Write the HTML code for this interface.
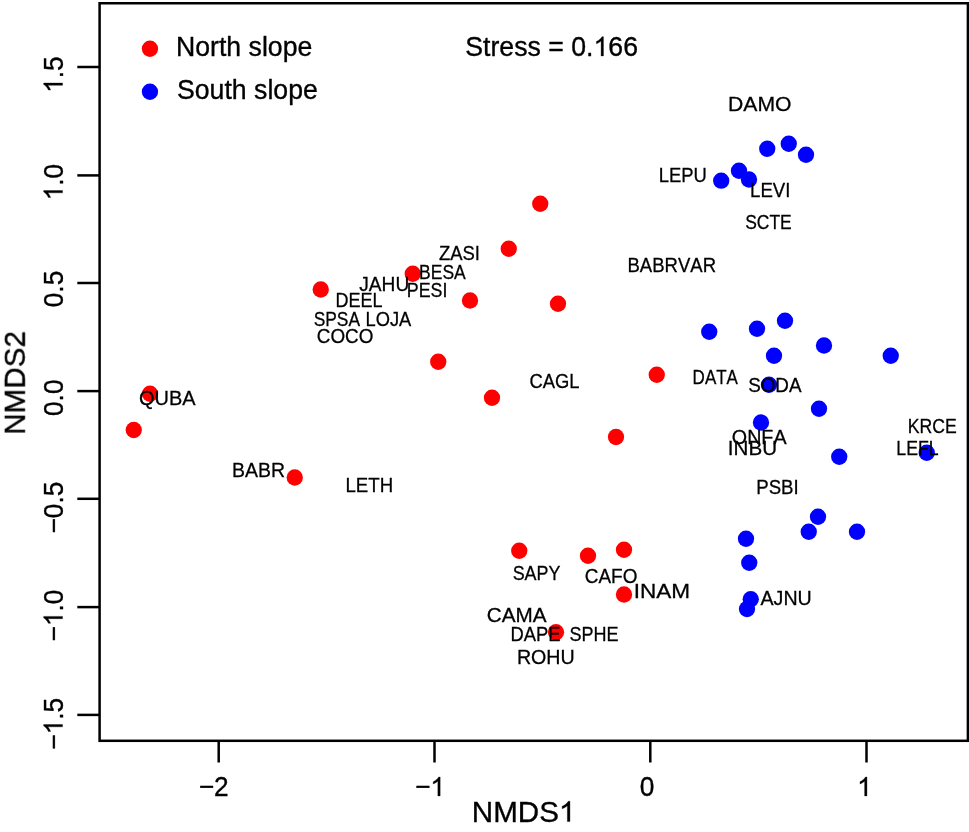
<!DOCTYPE html>
<html><head><meta charset="utf-8"><title>NMDS ordination</title>
<style>html,body{margin:0;padding:0;background:#fff;}body{width:969px;height:832px;overflow:hidden;font-family:"Liberation Sans",sans-serif;}svg{display:block;}</style>
</head><body>
<svg width="969" height="832" viewBox="0 0 969 832">
<rect x="0" y="0" width="969" height="832" fill="#fff"/>
<g fill="#ff0000">
<circle cx="150" cy="393.75" r="8.15"/>
<circle cx="133.75" cy="430" r="8.15"/>
<circle cx="320.75" cy="289.5" r="8.15"/>
<circle cx="412.75" cy="273.75" r="8.15"/>
<circle cx="470" cy="300.5" r="8.15"/>
<circle cx="438.25" cy="361.75" r="8.15"/>
<circle cx="540.25" cy="203.75" r="8.15"/>
<circle cx="508.75" cy="248.75" r="8.15"/>
<circle cx="558" cy="303.75" r="8.15"/>
<circle cx="656.75" cy="374.75" r="8.15"/>
<circle cx="492" cy="397.75" r="8.15"/>
<circle cx="294.75" cy="477.5" r="8.15"/>
<circle cx="616" cy="437" r="8.15"/>
<circle cx="519.25" cy="550.75" r="8.15"/>
<circle cx="588" cy="555.75" r="8.15"/>
<circle cx="624" cy="549.75" r="8.15"/>
<circle cx="624" cy="594.5" r="8.15"/>
<circle cx="556" cy="632.25" r="8.15"/>
</g><g fill="#0000ff">
<circle cx="721.2" cy="180.7" r="8.15"/>
<circle cx="739" cy="170.75" r="8.15"/>
<circle cx="749" cy="179.5" r="8.15"/>
<circle cx="767.25" cy="148.75" r="8.15"/>
<circle cx="788.75" cy="143.75" r="8.15"/>
<circle cx="806" cy="154.75" r="8.15"/>
<circle cx="709.25" cy="331.75" r="8.15"/>
<circle cx="757" cy="328.75" r="8.15"/>
<circle cx="785" cy="320.75" r="8.15"/>
<circle cx="824" cy="345.5" r="8.15"/>
<circle cx="774" cy="355.75" r="8.15"/>
<circle cx="890.75" cy="355.75" r="8.15"/>
<circle cx="769" cy="384.75" r="8.15"/>
<circle cx="819" cy="408.75" r="8.15"/>
<circle cx="761" cy="422.5" r="8.15"/>
<circle cx="839.25" cy="456.75" r="8.15"/>
<circle cx="926.75" cy="452.75" r="8.15"/>
<circle cx="818" cy="516.75" r="8.15"/>
<circle cx="808.75" cy="531.75" r="8.15"/>
<circle cx="857" cy="531.75" r="8.15"/>
<circle cx="746" cy="538.75" r="8.15"/>
<circle cx="749.25" cy="562.75" r="8.15"/>
<circle cx="750.75" cy="599.25" r="8.15"/>
<circle cx="747" cy="609" r="8.15"/>
</g>
<circle cx="149.95" cy="48.75" r="8.15" fill="#ff0000"/>
<circle cx="149.95" cy="91.75" r="8.15" fill="#0000ff"/>
<g stroke="#000" stroke-width="2.5" fill="none" stroke-linecap="butt">
<rect x="99.6" y="3.25" width="868.3" height="737.55"/>
<line x1="77.3" y1="67" x2="99.6" y2="67"/>
<line x1="77.3" y1="175.4" x2="99.6" y2="175.4"/>
<line x1="77.3" y1="283" x2="99.6" y2="283"/>
<line x1="77.3" y1="391.1" x2="99.6" y2="391.1"/>
<line x1="77.3" y1="498.8" x2="99.6" y2="498.8"/>
<line x1="77.3" y1="607.1" x2="99.6" y2="607.1"/>
<line x1="77.3" y1="714.9" x2="99.6" y2="714.9"/>
<line x1="218.7" y1="740.8" x2="218.7" y2="762.5"/>
<line x1="434.5" y1="740.8" x2="434.5" y2="762.5"/>
<line x1="650.3" y1="740.8" x2="650.3" y2="762.5"/>
<line x1="866.5" y1="740.8" x2="866.5" y2="762.5"/>
</g>
<g font-family="'Liberation Sans', sans-serif" fill="#000" stroke="#000" stroke-width="0.35" stroke-linejoin="round" style="font-kerning:none" opacity="0.999">
<g transform="translate(62.55,92.86) rotate(-90)"><path d="M9.80,0.00 L7.49,0.00 L7.49,-14.73 Q6.65,-13.93 5.30,-13.14 Q3.94,-12.34 2.86,-11.94 L2.86,-14.18 Q4.80,-15.09 6.25,-16.39 Q7.71,-17.68 8.31,-18.90 L9.80,-18.90 Z"/><text x="14.63" y="0" font-size="26.3" transform="scale(1,1.045)">.5</text></g>
<g transform="translate(62.55,200.36) rotate(-90)"><path d="M9.80,0.00 L7.49,0.00 L7.49,-14.73 Q6.65,-13.93 5.30,-13.14 Q3.94,-12.34 2.86,-11.94 L2.86,-14.18 Q4.80,-15.09 6.25,-16.39 Q7.71,-17.68 8.31,-18.90 L9.80,-18.90 Z"/><text x="14.63" y="0" font-size="26.3" transform="scale(1,1.045)">.0</text></g>
<g transform="translate(62.55,307.28) rotate(-90)"><text x="0.00" y="0" font-size="26.3" transform="scale(1,1.045)">0.5</text></g>
<g transform="translate(62.55,416.03) rotate(-90)"><text x="0.00" y="0" font-size="26.3" transform="scale(1,1.045)">0.0</text></g>
<g transform="translate(62.55,533.55) rotate(-90)"><text x="0.00" y="0" font-size="26.3" transform="scale(1,1.045)">−0.5</text></g>
<g transform="translate(62.55,641.55) rotate(-90)"><text x="0.00" y="0" font-size="26.3" transform="scale(1,1.045)">−</text><path d="M25.16,0.00 L22.85,0.00 L22.85,-14.73 Q22.01,-13.93 20.66,-13.14 Q19.30,-12.34 18.22,-11.94 L18.22,-14.18 Q20.16,-15.09 21.61,-16.39 Q23.06,-17.68 23.67,-18.90 L25.16,-18.90 Z"/><text x="29.99" y="0" font-size="26.3" transform="scale(1,1.045)">.0</text></g>
<g transform="translate(62.55,749.70) rotate(-90)"><text x="0.00" y="0" font-size="26.3" transform="scale(1,1.045)">−</text><path d="M25.16,0.00 L22.85,0.00 L22.85,-14.73 Q22.01,-13.93 20.66,-13.14 Q19.30,-12.34 18.22,-11.94 L18.22,-14.18 Q20.16,-15.09 21.61,-16.39 Q23.06,-17.68 23.67,-18.90 L25.16,-18.90 Z"/><text x="29.99" y="0" font-size="26.3" transform="scale(1,1.045)">.5</text></g>
<g transform="translate(198.70,795.9)"><text x="0.00" y="0" font-size="26.3" transform="scale(1,1.045)">−2</text></g>
<g transform="translate(415.00,795.9)"><text x="0.00" y="0" font-size="26.3" transform="scale(1,1.045)">−</text><path d="M25.16,0.00 L22.85,0.00 L22.85,-14.73 Q22.01,-13.93 20.66,-13.14 Q19.30,-12.34 18.22,-11.94 L18.22,-14.18 Q20.16,-15.09 21.61,-16.39 Q23.06,-17.68 23.67,-18.90 L25.16,-18.90 Z"/></g>
<g transform="translate(639.87,795.9)"><text x="0.00" y="0" font-size="26.3" transform="scale(1,1.045)">0</text></g>
<g transform="translate(857.14,795.9)"><path d="M9.80,0.00 L7.49,0.00 L7.49,-14.73 Q6.65,-13.93 5.30,-13.14 Q3.94,-12.34 2.86,-11.94 L2.86,-14.18 Q4.80,-15.09 6.25,-16.39 Q7.71,-17.68 8.31,-18.90 L9.80,-18.90 Z"/></g>
<g transform="translate(471.77,821.6)"><text x="0.00" y="0" font-size="29.6" transform="scale(1,1.0)">NMDS</text><path d="M98.18,0.00 L95.58,0.00 L95.58,-15.86 Q94.64,-15.01 93.11,-14.15 Q91.59,-13.29 90.38,-12.86 L90.38,-15.27 Q92.56,-16.25 94.19,-17.65 Q95.82,-19.04 96.50,-20.36 L98.18,-20.36 Z"/></g>
<g transform="translate(24.85,434.73) rotate(-90)"><text x="0.00" y="0" font-size="29.6" transform="scale(1,1.0)">NMDS2</text></g>
<g transform="translate(176.01,55.9)"><text x="0.00" y="0" font-size="26.67" transform="scale(1,1.045)">North slope</text></g>
<g transform="translate(176.99,98.9)"><text x="0.00" y="0" font-size="26.67" transform="scale(1,1.045)">South slope</text></g>
<g transform="translate(465.29,55.9)"><text x="0.00" y="0" font-size="26.67" transform="scale(1,1.045)">Stress = 0.</text><path d="M138.16,0.00 L135.81,0.00 L135.81,-14.94 Q134.96,-14.13 133.59,-13.32 Q132.22,-12.51 131.12,-12.11 L131.12,-14.38 Q133.09,-15.30 134.56,-16.62 Q136.03,-17.93 136.64,-19.17 L138.16,-19.17 Z"/><text x="143.05" y="0" font-size="26.67" transform="scale(1,1.045)">66</text></g>
</g>
<g font-family="'Liberation Sans', sans-serif" fill="#000" stroke="#000" stroke-width="0.3" style="font-kerning:none" opacity="0.999">
<text transform="translate(658.79,181.75) scale(0.8774,1)" font-size="21.0">LEPU</text>
<text transform="translate(728.07,110.75) scale(1.0071,1)" font-size="21.0">DAMO</text>
<text transform="translate(750.07,196.75) scale(0.8861,1)" font-size="21.0">LEVI</text>
<text transform="translate(139.06,404.5) scale(0.9491,1)" font-size="21.0">QUBA</text>
<text transform="translate(438.91,259.75) scale(0.8793,1)" font-size="21.0">ZASI</text>
<text transform="translate(419.06,279.25) scale(0.8339,1)" font-size="21.0">BESA</text>
<text transform="translate(359.20,290.5) scale(0.9123,1)" font-size="21.0">JAHU</text>
<text transform="translate(406.79,297.25) scale(0.8485,1)" font-size="21.0">PESI</text>
<text transform="translate(335.52,307.25) scale(0.8581,1)" font-size="21.0">DEEL</text>
<text transform="translate(313.71,325.6) scale(0.8268,1)" font-size="21.0">SPSA</text>
<text transform="translate(365.50,325.6) scale(0.8718,1)" font-size="21.0">LOJA</text>
<text transform="translate(316.79,342.5) scale(0.8986,1)" font-size="21.0">COCO</text>
<text transform="translate(627.48,271.6) scale(0.8826,1)" font-size="21.0">BABRVAR</text>
<text transform="translate(529.57,387.5) scale(0.8751,1)" font-size="21.0">CAGL</text>
<text transform="translate(692.61,383.75) scale(0.8093,1)" font-size="21.0">DATA</text>
<text transform="translate(745.21,228.75) scale(0.8310,1)" font-size="21.0">SCTE</text>
<text transform="translate(748.14,391.75) scale(0.8971,1)" font-size="21.0">SODA</text>
<text transform="translate(232.10,476.5) scale(0.9268,1)" font-size="21.0">BABR</text>
<text transform="translate(345.47,491.75) scale(0.8877,1)" font-size="21.0">LETH</text>
<text transform="translate(512.69,579.75) scale(0.8515,1)" font-size="21.0">SAPY</text>
<text transform="translate(584.79,582.75) scale(0.9020,1)" font-size="21.0">CAFO</text>
<text transform="translate(633.67,597.75) scale(1.0750,1)" font-size="21.0">INAM</text>
<text transform="translate(486.70,622.25) scale(0.9863,1)" font-size="21.0">CAMA</text>
<text transform="translate(907.80,432.75) scale(0.8390,1)" font-size="21.0">KRCE</text>
<text transform="translate(896.30,454.75) scale(0.8425,1)" font-size="21.0">LEFL</text>
<text transform="translate(731.82,443.5) scale(0.9381,1)" font-size="21.0">ONFA</text>
<text transform="translate(727.85,454.75) scale(0.9815,1)" font-size="21.0">INBU</text>
<text transform="translate(756.22,493.5) scale(0.8881,1)" font-size="21.0">PSBI</text>
<text transform="translate(760.46,604.75) scale(0.9356,1)" font-size="21.0">AJNU</text>
<text transform="translate(510.49,640.5) scale(0.8752,1)" font-size="21.0">DAPE</text>
<text transform="translate(569.43,640.5) scale(0.8585,1)" font-size="21.0">SPHE</text>
<text transform="translate(516.89,663.5) scale(0.9361,1)" font-size="21.0">ROHU</text>
</g></svg>
</body></html>
